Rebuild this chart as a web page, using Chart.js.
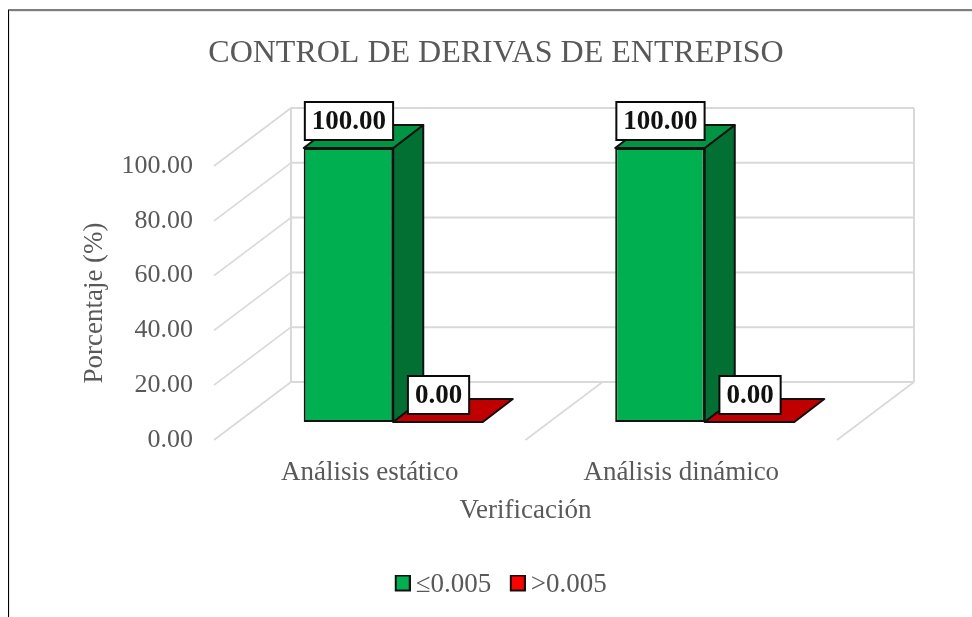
<!DOCTYPE html>
<html><head><meta charset="utf-8">
<style>html,body{margin:0;padding:0;background:#fff;overflow:hidden}#w{position:absolute;left:0;top:0;width:972px;height:617px}</style>
<script src="https://cdn.jsdelivr.net/npm/chart.js@4/dist/chart.umd.min.js"></script>
</head><body><div id="w"><canvas id="c" width="972" height="617"></canvas></div>
<script>
const categories = ["Análisis estático", "Análisis dinámico"];
const seriesNames = ["≤0.005", ">0.005"];
const lowDrift = [100, 100];
const highDrift = [0, 0];
const titleText = "CONTROL DE DERIVAS DE ENTREPISO";
const xTitle = "Verificación";
const yTitle = "Porcentaje (%)";

const SERIF = "'Liberation Serif','Times New Roman',serif";
const GREY = "#595959", GRID = "#D9D9D9";
const WALL = {dx: 77, dy: -58};
const SLOT = {dx: 23.5, dy: -18};
const DEPTH = {dx: 30, dy: -23};
const SHADES = [{front:"#00B050", top:"#009443", side:"#037033"},
                {front:"#FF0000", top:"#C00000", side:"#8F0000"}];

function line(ctx, x1, y1, x2, y2){ctx.beginPath();ctx.moveTo(x1,y1);ctx.lineTo(x2,y2);ctx.stroke();}
function poly(ctx, pts, fill){
  ctx.beginPath();pts.forEach((p,i)=>i?ctx.lineTo(p[0],p[1]):ctx.moveTo(p[0],p[1]));ctx.closePath();
  ctx.fillStyle=fill;ctx.fill();ctx.stroke();
}
function swatch(fill){
  const c=document.createElement("canvas");c.width=18;c.height=21;
  const g=c.getContext("2d");g.fillStyle="#111";g.fillRect(2,0,16,17);g.fillStyle=fill;g.fillRect(4,2,12,13);
  return c;
}
const bar3d = {
  id:"bar3d",
  afterLayout(chart){
    const l=chart.legend;
    l.left+=8;l.right+=8;l.top-=8.5;l.bottom-=8.5;
  },
  beforeDraw(chart){
    const {ctx,scales:{x,y}} = chart, area = chart.chartArea;
    ctx.save();
    ctx.fillStyle="#fff";ctx.fillRect(0,0,chart.width,chart.height);
    ctx.strokeStyle=GRID;ctx.lineWidth=2;
    const ticks=y.ticks.map(t=>y.getPixelForValue(t.value));
    ticks.forEach(py=>{
      line(ctx,area.left+WALL.dx,py+WALL.dy,area.right+WALL.dx,py+WALL.dy);
    });
    const yb=y.getPixelForValue(0), yt=y.getPixelForValue(100);
    line(ctx,area.left+WALL.dx,yt+WALL.dy,area.left+WALL.dx,yb+WALL.dy);
    line(ctx,area.right+WALL.dx,yt+WALL.dy,area.right+WALL.dx,yb+WALL.dy);
    ctx.lineWidth=1.6;
    ticks.forEach(py=>line(ctx,area.left,py,area.left+WALL.dx,py+WALL.dy));
    [(area.left+area.right)/2,area.right].forEach(px=>line(ctx,px,yb,px+WALL.dx,yb+WALL.dy));
    ctx.restore();
  },
  beforeDatasetsDraw(chart){
    const ctx=chart.ctx;
    ctx.save();
    ctx.translate(SLOT.dx,SLOT.dy);
    ctx.strokeStyle="#111";ctx.lineWidth=2;ctx.lineJoin="round";
    chart.data.datasets.forEach((ds,i)=>{
      chart.getDatasetMeta(i).data.forEach(b=>{
        const l=b.x-b.width/2,r=b.x+b.width/2,t=b.y,bt=b.base,d=DEPTH,s=SHADES[i];
        if(bt-t>0.5) poly(ctx,[[r,t],[r+d.dx,t+d.dy],[r+d.dx,bt+d.dy],[r,bt]],s.side);
        poly(ctx,[[l,t],[r,t],[r+d.dx,t+d.dy],[l+d.dx,t+d.dy]],s.top);
      });
    });
  },
  afterDatasetsDraw(chart){
    const ctx=chart.ctx;
    ctx.restore();
    ctx.save();
    chart.data.datasets.forEach((ds,i)=>{
      chart.getDatasetMeta(i).data.forEach((b,j)=>{
        const label=ds.data[j].toFixed(2);
        ctx.font="bold 27px "+SERIF;
        const w=ctx.measureText(label).width+14,h=38;
        const cx=b.x+SLOT.dx+0.5,cy=b.y+SLOT.dy-27;
        ctx.fillStyle="#fff";ctx.strokeStyle="#0a0a0a";ctx.lineWidth=2;
        ctx.fillRect(cx-w/2,cy-h/2,w,h);ctx.strokeRect(cx-w/2,cy-h/2,w,h);
        ctx.fillStyle="#111";ctx.textAlign="center";ctx.textBaseline="middle";
        ctx.fillText(label,cx,cy+1);
      });
    });
    ctx.restore();
  },
  afterDraw(chart){
    const ctx=chart.ctx;
    ctx.save();
    ctx.fillStyle="#E6E6E6";ctx.fillRect(9,11,chart.width-9,1);ctx.fillRect(9,11,1,chart.height-11);
    ctx.fillStyle="#7F7F7F";ctx.fillRect(8,9,chart.width-8,2);
    ctx.fillStyle="#000";ctx.fillRect(8,10,1,chart.height-10);
    ctx.restore();
  }
};

new Chart(document.getElementById("c"),{
  type:"bar",
  data:{labels:categories,datasets:[
    {label:seriesNames[0],data:lowDrift,backgroundColor:SHADES[0].front,borderColor:"#111",borderWidth:2,borderSkipped:false,categoryPercentage:0.575,barPercentage:1},
    {label:seriesNames[1],data:highDrift,backgroundColor:SHADES[1].front,borderColor:"#111",borderWidth:2,borderSkipped:false,categoryPercentage:0.575,barPercentage:1}
  ]},
  options:{
    responsive:false,animation:false,
    layout:{padding:{left:20,right:0,top:0,bottom:0}},
    plugins:{
      tooltip:{enabled:false},
      title:{display:true,text:titleText,color:GREY,font:{family:SERIF,size:32,weight:"normal",lineHeight:1.2},padding:{top:34,bottom:93.6}},
      legend:{position:"bottom",labels:{color:GREY,font:{family:SERIF,size:27},usePointStyle:true,pointStyleWidth:1,boxHeight:17,padding:25,
        generateLabels(chart){return chart.data.datasets.map((d,i)=>({text:d.label,pointStyle:swatch(d.backgroundColor),datasetIndex:i,fontColor:GREY,lineWidth:0}));}}}
    },
    scales:{
      x:{grid:{display:false},border:{display:false},
        ticks:{color:GREY,font:{family:SERIF,size:27},padding:9,maxRotation:0},
        title:{display:true,text:xTitle,color:GREY,font:{family:SERIF,size:27},padding:{top:0,bottom:28}},
        afterFit(s){s.height=115;}},
      y:{min:0,max:100,grid:{display:false},border:{display:false},
        ticks:{stepSize:20,color:GREY,font:{family:SERIF,size:26},padding:13,callback:v=>v.toFixed(2)},
        title:{display:true,text:yTitle,color:GREY,font:{family:SERIF,size:27},padding:{top:59,bottom:0}},
        afterFit(s){s.width=194;}},
      r:{position:"right",min:0,max:100,display:true,grid:{display:false},border:{display:false},ticks:{display:false},afterFit(s){s.width=135;}}
    }
  },
  plugins:[bar3d]
});
</script></body></html>
